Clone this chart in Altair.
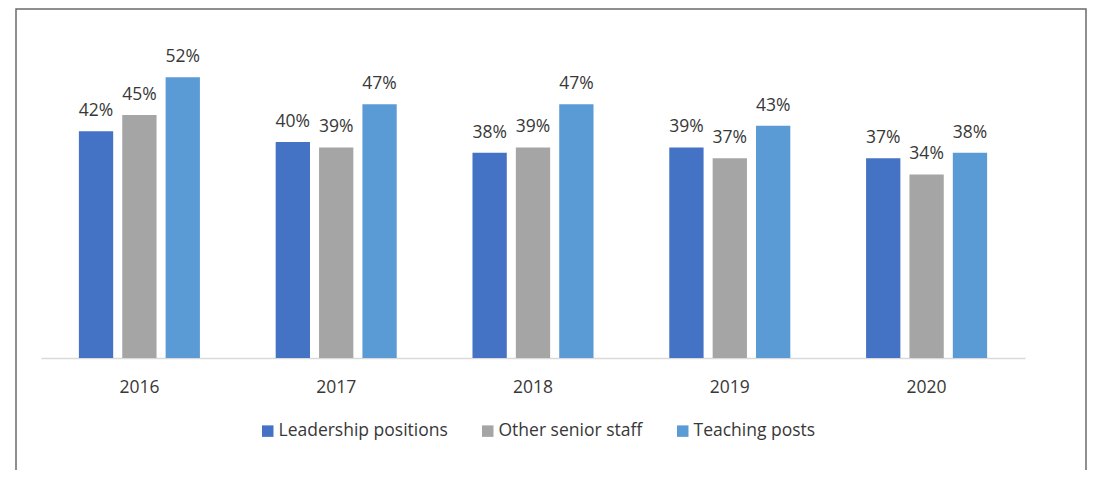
import altair as alt
import pandas as pd

years = ["2016", "2017", "2018", "2019", "2020"]
series = ["Leadership positions", "Other senior staff", "Teaching posts"]
leadership = [42, 40, 38, 39, 37]
other_senior = [45, 39, 39, 37, 34]
teaching = [52, 47, 47, 43, 38]
colors = ["#4472C4", "#A5A5A5", "#5B9BD5"]

rows = []
for i, yr in enumerate(years):
    for s, vals in zip(series, [leadership, other_senior, teaching]):
        rows.append({"year": yr, "series": s, "value": vals[i] / 100})
df = pd.DataFrame(rows)

FONT = "Open Sans"
FS = 17.5
TXT = "#383838"

x = alt.X(
    "year:N",
    sort=years,
    scale=alt.Scale(paddingInner=0.385, paddingOuter=0.1925),
    axis=alt.Axis(
        title=None, labelAngle=0, ticks=False, domainColor="#d9d9d9", domainWidth=1.5,
        labelFont=FONT, labelFontSize=FS, labelColor=TXT, labelPadding=20,
    ),
)
xo = alt.XOffset("series:N", sort=series, scale=alt.Scale(paddingInner=0.209, paddingOuter=0))
y = alt.Y("value:Q", scale=alt.Scale(domain=[0, 0.6]), axis=None)

bars = alt.Chart(df).mark_bar().encode(
    x=x,
    xOffset=xo,
    y=y,
    color=alt.Color(
        "series:N",
        sort=series,
        scale=alt.Scale(domain=series, range=colors),
        legend=alt.Legend(
            title=None, orient="none", legendX=218, legendY=388, direction="horizontal",
            symbolType="square", symbolSize=132, symbolStrokeWidth=0,
            labelFont=FONT, labelFontSize=FS, labelColor=TXT, labelLimit=400,
            columnPadding=31, labelOffset=2, padding=0,
        ),
    ),
)

labels = alt.Chart(df).mark_text(
    baseline="alphabetic", dy=-15, font=FONT, fontSize=FS, color=TXT
).encode(x=x, xOffset=xo, y=y, text=alt.Text("value:Q", format=".0%"))

frame = alt.Chart(pd.DataFrame({"k": [0]})).mark_rect(
    filled=False, stroke="#6b6b6b", strokeWidth=1.5
).encode(x=alt.value(-25), x2=alt.value(1045), y=alt.value(-25), y2=alt.value(700))

chart = alt.layer(frame, bars, labels).properties(
    width=984,
    height=324,
    autosize=alt.AutoSizeParams(type="none"),
    padding={"left": 33, "top": 26, "right": 62, "bottom": 112},
    background="white",
).configure_view(stroke=None)

chart.save("out.html", embed_options={"renderer": "svg", "actions": False})
